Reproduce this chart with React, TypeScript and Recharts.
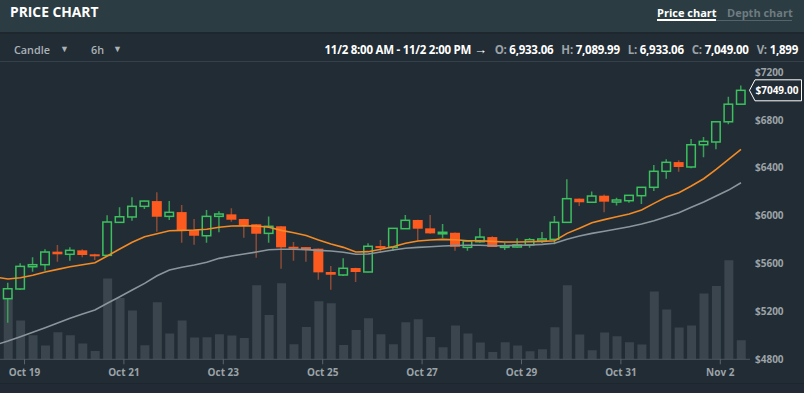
import React from 'react';
import { ComposedChart, Bar, Line, XAxis, YAxis, ReferenceLine } from 'recharts';

// hours since Oct 19 00:00 (6h candles)
const hours = [-14, -8, -2, 4, 10, 16, 22, 28, 34, 40, 46, 52, 58, 64, 70, 76, 82, 88, 94, 100, 106, 112, 118, 124, 130, 136, 142, 148, 154, 160, 166, 172, 178, 184, 190, 196, 202, 208, 214, 220, 226, 232, 238, 244, 250, 256, 262, 268, 274, 280, 286, 292, 298, 304, 310, 316, 322, 328, 334, 340, 346];

const opens = [null, 5307, 5388, 5574, 5591, 5700, 5678, 5711, 5678, 5669, 5945, 5990, 6079, 6123, 5995, 6031, 5881, 5833, 5995, 6012, 5973, 5929, 5853, 5912, 5741, 5738, 5725, 5530, 5505, 5563, 5530, 5747, 5736, 5892, 5965, 5895, 5850, 5858, 5736, 5783, 5822, 5736, 5739, 5756, 5789, 5803, 5945, 6143, 6113, 6168, 6115, 6126, 6168, 6238, 6372, 6449, 6408, 6594, 6617, 6786, 6933.06];
const highs = [null, 5440, 5603, 5653, 5720, 5756, 5736, 5720, 5682, 6004, 6071, 6154, 6125, 6196, 6123, 6090, 5973, 6048, 6037, 6062, 5976, 5931, 5995, 5915, 5781, 5740, 5727, 5580, 5644, 5565, 5770, 5797, 5897, 6006, 5967, 6006, 5931, 5860, 5790, 5895, 5828, 5775, 5812, 5814, 5864, 5998, 6305, 6145, 6204, 6179, 6151, 6171, 6240, 6424, 6472, 6464, 6642, 6658, 6790, 6995, 7089.99];
const lows = [null, 5106, 5380, 5532, 5541, 5616, 5624, 5653, 5630, 5665, 5945, 5959, 6057, 5867, 5965, 5775, 5758, 5775, 5862, 5950, 5817, 5649, 5775, 5557, 5624, 5616, 5465, 5382, 5496, 5446, 5528, 5691, 5705, 5890, 5791, 5850, 5812, 5708, 5708, 5775, 5739, 5714, 5733, 5733, 5772, 5761, 5943, 6082, 6110, 6029, 6087, 6109, 6098, 6207, 6310, 6368, 6397, 6489, 6556, 6765, 6933.06];
const closes = [null, 5390, 5577, 5591, 5697, 5678, 5711, 5672, 5666, 5948, 5992, 6079, 6123, 5992, 6029, 5875, 5833, 5995, 6015, 5967, 5923, 5850, 5912, 5736, 5733, 5720, 5527, 5507, 5561, 5530, 5745, 5733, 5895, 5962, 5892, 5853, 5862, 5741, 5789, 5822, 5739, 5750, 5756, 5800, 5806, 5945, 6143, 6113, 6165, 6118, 6132, 6171, 6238, 6372, 6447, 6408, 6594, 6622, 6786, 6933.06, 7049];
const volumes = [null, 6500, 3870, 2400, 1370, 2700, 2400, 1570, 830, 8070, 6130, 4870, 1400, 5700, 2570, 3870, 2170, 2200, 2500, 2370, 2130, 7400, 4430, 7600, 1500, 3230, 5800, 5600, 1430, 2930, 4100, 2500, 1500, 3700, 4000, 2230, 1200, 3370, 2570, 1670, 730, 1700, 1370, 800, 1000, 3200, 7400, 2470, 900, 2670, 2300, 1700, 1470, 6770, 4970, 3170, 3370, 6570, 7330, 9900, 1899];
const maFast = [5488, 5471, 5482, 5502, 5530, 5552, 5574, 5591, 5608, 5664, 5722, 5778, 5825, 5850, 5875, 5878, 5881, 5887, 5904, 5914, 5917, 5914, 5904, 5878, 5858, 5835, 5797, 5764, 5736, 5697, 5700, 5720, 5741, 5770, 5789, 5797, 5803, 5799, 5791, 5791, 5786, 5781, 5781, 5783, 5786, 5791, 5853, 5895, 5942, 5968, 5992, 6015, 6048, 6104, 6157, 6193, 6249, 6310, 6388, 6472, 6556];
const maSlow = [4920, 4953, 4989, 5026, 5064, 5103, 5143, 5179, 5212, 5268, 5323, 5379, 5435, 5499, 5547, 5569, 5588, 5611, 5644, 5664, 5680, 5697, 5716, 5720, 5720, 5717, 5711, 5705, 5695, 5678, 5680, 5697, 5714, 5728, 5736, 5741, 5747, 5751, 5753, 5753, 5750, 5750, 5753, 5756, 5761, 5770, 5803, 5831, 5853, 5870, 5889, 5909, 5931, 5959, 5992, 6026, 6071, 6115, 6165, 6215, 6276];

const dayTicks = [0, 48, 96, 144, 192, 240, 288, 336];
const dayLabels = ['Oct 19', 'Oct 21', 'Oct 23', 'Oct 25', 'Oct 27', 'Oct 29', 'Oct 31', 'Nov 2'];
const priceTicks = [4800, 5200, 5600, 6000, 6400, 6800, 7200];
const lastPrice = 7049;

const data = hours.map((t, i) => ({
  t,
  open: opens[i],
  high: highs[i],
  low: lows[i],
  close: closes[i],
  vol: volumes[i],
  maFast: maFast[i],
  maSlow: maSlow[i],
}));

const BG = '#222c34';
const FONT = '"Open Sans", "Noto Sans", sans-serif';

const Candle = (props: any) => {
  const { x, y, width, height, payload } = props;
  if (!payload || payload.high == null) return null;
  const top = Math.min(y, y + height);
  const bot = Math.max(y, y + height);
  const range = payload.high - payload.low;
  const ppu = range > 0 ? (bot - top) / range : 0;
  const yO = top + (payload.high - payload.open) * ppu;
  const yC = top + (payload.high - payload.close) * ppu;
  const up = payload.close >= payload.open;
  const cx = x + width / 2;
  const bTop = Math.min(yO, yC);
  const bH = Math.max(Math.abs(yO - yC), 1.5);
  return (
    <g>
      <line x1={cx} x2={cx} y1={top} y2={bot} stroke={up ? '#3a9f58' : '#8b4b37'} strokeWidth={1.5} />
      {up ? (
        <rect x={x + 0.75} y={bTop} width={width - 1.5} height={bH} fill={BG} stroke="#3cc15f" strokeWidth={1.5} />
      ) : (
        <rect x={x} y={bTop} width={width} height={Math.max(bH, 2)} fill="#fc5a1f" />
      )}
    </g>
  );
};

const PriceTag = (props: any) => {
  const vb = props.viewBox || {};
  const xr = vb.x + vb.width;
  const y = vb.y;
  const pts = `${xr - 0.5},${y} ${xr + 5},${y - 10.5} ${xr + 51.5},${y - 10.5} ${xr + 51.5},${y + 10.5} ${xr + 5},${y + 10.5}`;
  return (
    <g>
      <polygon points={pts} fill={BG} stroke="#ffffff" strokeWidth={1} />
      <text x={xr + 5.5} y={y + 3.6} fill="#ffffff" fontSize={10} fontWeight={700} fontFamily={FONT}>
        ${lastPrice.toFixed(2)}
      </text>
    </g>
  );
};

const tickStyle = { fill: '#9ba3a8', fontSize: 10, fontWeight: 700, fontFamily: FONT };

export default function App() {
  return (
    <div style={{ position: 'absolute', left: 0, top: 0, width: 804, height: 393, background: BG, overflow: 'hidden', fontFamily: FONT }}>
      {/* header */}
      <div style={{ position: 'absolute', left: 0, top: 0, width: 804, height: 32, background: '#2b3d43', borderBottom: '2px solid #1e272d' }} />
      <div style={{ position: 'absolute', left: 10, top: 2, color: '#ffffff', fontSize: 13.8, fontWeight: 700 }}>PRICE CHART</div>
      <div style={{ position: 'absolute', left: 657, top: 4.5, color: '#ffffff', fontSize: 11, fontWeight: 700 }}>Price chart</div>
      <div style={{ position: 'absolute', left: 657, top: 19, width: 59, height: 2, background: '#ffffff' }} />
      <div style={{ position: 'absolute', left: 727, top: 4.5, color: '#6f7b81', fontSize: 11, fontWeight: 700 }}>Depth chart</div>
      <div style={{ position: 'absolute', left: 716, top: 20, width: 76, height: 1, background: '#55636a' }} />
      {/* toolbar */}
      <div style={{ position: 'absolute', left: 14, top: 41.5, color: '#aab2b7', fontSize: 10.8, fontWeight: 600 }}>Candle</div>
      <div style={{ position: 'absolute', left: 60, top: 42, color: '#aab2b7', fontSize: 9 }}>▼</div>
      <div style={{ position: 'absolute', left: 91, top: 41.5, color: '#aab2b7', fontSize: 10.8, fontWeight: 600 }}>6h</div>
      <div style={{ position: 'absolute', left: 113, top: 42, color: '#aab2b7', fontSize: 9 }}>▼</div>
      <div style={{ position: 'absolute', right: 6, top: 41, color: '#ffffff', fontSize: 11.5, fontWeight: 700, whiteSpace: 'nowrap', letterSpacing: -0.25, lineHeight: '16px' }}>
        <span>11/2 8:00 AM - 11/2 2:00 PM </span>
        <span style={{ fontSize: 13, fontWeight: 400 }}>→</span>
        <span style={{ color: '#9ba3a8', marginLeft: 8 }}>O:</span> <span>6,933.06</span>
        <span style={{ color: '#9ba3a8', marginLeft: 8 }}>H:</span> <span>7,089.99</span>
        <span style={{ color: '#9ba3a8', marginLeft: 8 }}>L:</span> <span>6,933.06</span>
        <span style={{ color: '#9ba3a8', marginLeft: 8 }}>C:</span> <span>7,049.00</span>
        <span style={{ color: '#9ba3a8', marginLeft: 8 }}>V:</span> <span>1,899</span>
      </div>
      <div style={{ position: 'absolute', left: 0, top: 61, width: 804, height: 1, background: '#34414a' }} />
      <div style={{ position: 'absolute', left: 0, top: 383, width: 804, height: 10, background: '#212a35', borderTop: '1px solid #1d252d' }} />
      {/* chart */}
      <div style={{ position: 'absolute', left: 0, top: 0 }}>
        <ComposedChart width={804} height={393} data={data} margin={{ top: 62.7, right: 0, bottom: 3.7, left: 0 }}>
          <XAxis
            xAxisId="main"
            dataKey="t"
            type="number"
            domain={[-11.83, 350.35]}
            allowDataOverflow
            ticks={dayTicks}
            tickFormatter={(v: number) => dayLabels[dayTicks.indexOf(v)] ?? ''}
            height={30}
            tickSize={5}
            tickMargin={5}
            axisLine={{ stroke: '#4b565e' }}
            tickLine={{ stroke: '#5a656c' }}
            tick={tickStyle}
            interval={0}
          />
          <XAxis xAxisId="vol" dataKey="t" type="number" domain={[-11.83, 350.35]} allowDataOverflow hide />
          <YAxis
            yAxisId="price"
            orientation="right"
            type="number"
            domain={[4800, 7280]}
            allowDataOverflow
            ticks={priceTicks}
            tickFormatter={(v: number) => `$${v}`}
            width={54}
            axisLine={false}
            tickLine={false}
            tickSize={0}
            tickMargin={5}
            tick={tickStyle}
            interval={0}
          />
          <YAxis yAxisId="vol" type="number" domain={[0, 29660]} allowDataOverflow hide />
          <Bar xAxisId="vol" yAxisId="vol" dataKey="vol" fill="#3a454d" barSize={9} isAnimationActive={false} />
          <Line xAxisId="main" yAxisId="price" dataKey="maSlow" stroke="#8b959c" strokeWidth={1.6} dot={false} activeDot={false} isAnimationActive={false} />
          <Line xAxisId="main" yAxisId="price" dataKey="maFast" stroke="#f28a25" strokeWidth={1.6} dot={false} activeDot={false} isAnimationActive={false} />
          <Bar
            xAxisId="main"
            yAxisId="price"
            dataKey={(d: any) => (d.high == null ? null : [d.low, d.high])}
            barSize={10}
            shape={<Candle />}
            isAnimationActive={false}
          />
          <ReferenceLine xAxisId="main" yAxisId="price" y={lastPrice} stroke="none" strokeOpacity={0} label={<PriceTag />} ifOverflow="visible" />
        </ComposedChart>
      </div>
    </div>
  );
}
